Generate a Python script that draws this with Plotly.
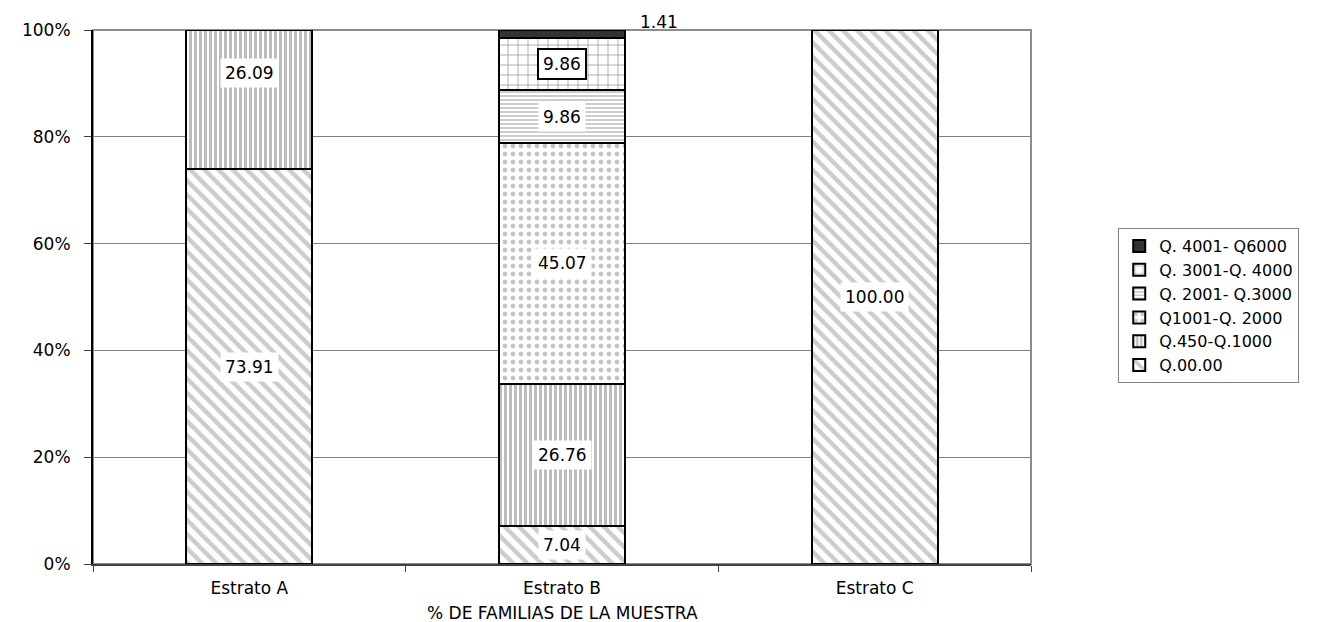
import plotly.graph_objects as go

categorias = ["Estrato A", "Estrato B", "Estrato C"]

rangos = ["Q.00.00", "Q.450-Q.1000", "Q1001-Q. 2000",
          "Q. 2001- Q.3000", "Q. 3001-Q. 4000", "Q. 4001- Q6000"]

q_000 = [73.91, 7.04, 100.00]
q_450_1000 = [26.09, 26.76, 0]
q_1001_2000 = [0, 45.07, 0]
q_2001_3000 = [0, 9.86, 0]
q_3001_4000 = [0, 9.86, 0]
q_4001_6000 = [0, 1.41, 0]

series = [q_000, q_450_1000, q_1001_2000, q_2001_3000, q_3001_4000, q_4001_6000]

# excel style fills
patrones = [
    dict(shape="\\", fgcolor="#999999", bgcolor="white", size=10, solidity=0.45),
    dict(shape="|", fgcolor="#7a7a7a", bgcolor="white", size=5, solidity=0.6),
    dict(shape=".", fgcolor="#8a8a8a", bgcolor="white", size=8, solidity=0.28),
    dict(shape="-", fgcolor="#999999", bgcolor="white", size=4, solidity=0.5),
    dict(shape="+", fgcolor="#333333", bgcolor="white", size=10, solidity=0.15),
    dict(shape="", fgcolor="#333333", bgcolor="#333333"),
]
colores = ["white", "white", "white", "white", "white", "#333333"]

FONT = "DejaVu Sans, Arial, sans-serif"

fig = go.Figure()
for nombre, vals, pat, col in zip(rangos, series, patrones, colores):
    fig.add_trace(go.Bar(
        name=nombre,
        x=categorias,
        y=vals,
        marker=dict(color=col, pattern=pat, line=dict(color="black", width=2)),
        hoverinfo="name+y",
    ))

# data labels (white boxes) at the middle of each segment
for i, cat in enumerate(categorias):
    base = 0
    for j, vals in enumerate(series):
        v = vals[i]
        if v <= 0:
            continue
        mid = base + v / 2
        base += v
        if rangos[j] == "Q. 4001- Q6000":
            fig.add_annotation(x=cat, y=base, text=f"{v:.2f}", showarrow=False,
                               xshift=97, yshift=8,
                               font=dict(family=FONT, size=17, color="black"))
            continue
        yshift = 0
        if cat == "Estrato A" and rangos[j] == "Q.450-Q.1000":
            yshift = 27
        box = dict(bordercolor="black", borderwidth=2) if rangos[j] == "Q. 3001-Q. 4000" else {}
        fig.add_annotation(x=cat, y=mid, text=f"{v:.2f}", showarrow=False,
                           yshift=yshift, bgcolor="white", borderpad=4,
                           font=dict(family=FONT, size=17, color="black"), **box)

fig.add_annotation(text="% DE FAMILIAS DE LA MUESTRA", xref="paper", yref="paper",
                   x=0.5, y=-0.092, showarrow=False, yanchor="middle",
                   font=dict(family=FONT, size=17, color="black"))

fig.add_shape(type="rect", xref="paper", yref="paper", x0=0, y0=0, x1=1, y1=1,
              line=dict(color="#8c8c8c", width=2), layer="below")

# page body has an 8px margin, so the figure is shrunk by that much
fig.update_layout(
    barmode="stack",
    bargap=0.596,
    width=1330, height=614,
    margin=dict(l=85, r=307, t=22, b=58),
    paper_bgcolor="white", plot_bgcolor="white",
    font=dict(family=FONT, size=17, color="black"),
    showlegend=True,
    legend=dict(
        traceorder="reversed",
        x=1.093, y=0.629, xanchor="left", yanchor="top",
        bordercolor="#808080", borderwidth=1,
        font=dict(family=FONT, size=16, color="black"),
        itemwidth=30, tracegroupgap=0,
    ),
    xaxis=dict(
        showgrid=False, showline=True, linecolor="#404040", linewidth=2,
        ticks="outside", tickson="boundaries", ticklen=6, tickcolor="#404040",
        tickfont=dict(size=17), ticklabelstandoff=8,
    ),
    yaxis=dict(
        range=[0, 100], dtick=20, ticksuffix="%",
        showgrid=True, gridcolor="#808080", gridwidth=1,
        showline=True, linecolor="black", linewidth=2,
        ticks="outside", ticklen=7, tickcolor="#404040",
        tickfont=dict(size=17), zeroline=False, ticklabelstandoff=10,
    ),
)

fig.write_html("out.html")
